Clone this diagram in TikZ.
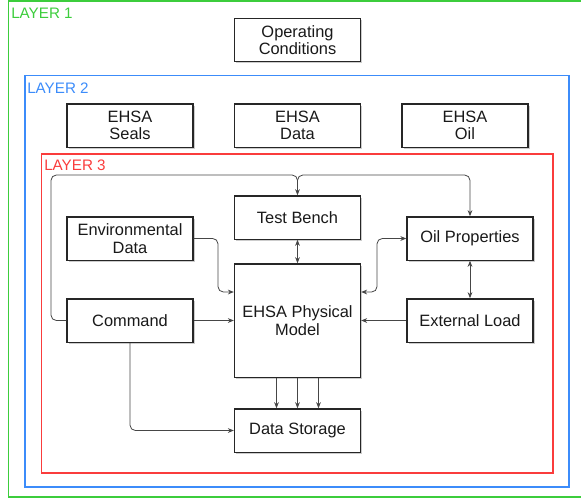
\documentclass[tikz,border=0pt]{standalone}
\usepackage{fontspec}
\setmainfont{Liberation Sans}
\usetikzlibrary{arrows.meta,shadows}

\definecolor{layerone}{RGB}{60,205,60}
\definecolor{layertwo}{RGB}{60,140,250}
\definecolor{layerthree}{RGB}{250,60,60}
\definecolor{wire}{RGB}{70,70,70}

\tikzset{%
  block/.style={
    draw=black!85,
    line width=1pt,
    fill=white,
    minimum width=94.5pt,
    minimum height=32.5pt,
    align=center,
    text=black!90,
    font=\fontsize{12.3}{13.2}\selectfont,
    drop shadow={shadow xshift=1.3pt, shadow yshift=-1.3pt, fill=black!40, opacity=0.5}
  },
  wire/.style={draw=wire, line width=0.6pt, rounded corners=4pt},
  frame/.style={line width=1.1pt},
  layer label/.style={anchor=west, inner sep=0pt, font=\fontsize{11.4}{13}\selectfont},
}

\begin{document}
\begin{tikzpicture}[x=0.75pt, y=-0.75pt, >={Stealth[length=4.5pt,width=3.6pt]}]
  \useasboundingbox (0,0) rectangle (581,500);
  % draw layer frames
  \draw [frame, layerone] (581,0.8) -- (8.5,0.8) -- (8.5,497) -- (581,497);
  \draw [frame, layertwo] (25,75.5) rectangle (569,487);
  \draw [frame, layerthree] (41.5,154) rectangle (553,473);
  \node [layer label, text=layerone] (label-1) at (11,13) {LAYER 1};
  \node [layer label, text=layertwo] (label-2) at (27,88) {LAYER 2};
  \node [layer label, text=layerthree] (label-3) at (44,165) {LAYER 3};

  % draw layer 1 and layer 2 blocks
  \node [block] (opcond) at (297.5,40) {Operating\\Conditions};
  \foreach \n/\l [count=\x] in {seals/Seals, ehsadata/Data, ehsaoil/Oil}
  {
    \node [block] (\n) at (130+167.5*\x-167.5,125.5) {EHSA\\\l};
  }

  % draw layer 3 blocks
  \node [block] (bench) at (297.5,217.5) {Test Bench};
  \node [block] (envdata) at (130,238.5) {Environmental\\Data};
  \node [block] (oilprop) at (470,238.5) {Oil Properties};
  \node [block] (command) at (130,320.5) {Command};
  \node [block, minimum height=85pt] (model) at (297.5,320.5) {EHSA Physical\\Model};
  \node [block] (extload) at (470,320.5) {External Load};
  \node [block] (storage) at (297.5,430.5) {Data Storage};

  % command loop over the top
  \coordinate (fork) at (297.5,188);
  \draw [wire, ->] (command.west) -| (51,175) -| (bench.north);
  \draw [wire, ->] (fork) |- (oilprop.north |- 0,175) -- (oilprop.north);

  % inputs of the model
  \draw [wire, ->] (envdata.east) -| (218,292) -- (model.west |- 0,292);
  \draw [wire, <->] (oilprop.west) -| (377,292) -- (model.east |- 0,292);
  \draw [wire, ->] (command) -- (model);
  \draw [wire, ->] (extload) -- (model);
  \draw [wire, <->] (bench) -- (model);
  \draw [wire, <->] (oilprop) -- (extload);

  % outputs to storage
  \foreach \d in {-21,0,21}
  \draw [wire, ->] ([xshift=\d*0.75pt]model.south) -- ([xshift=\d*0.75pt]storage.north);
  \draw [wire, ->] (command.south) |- (storage.west);
\end{tikzpicture}
\end{document}
